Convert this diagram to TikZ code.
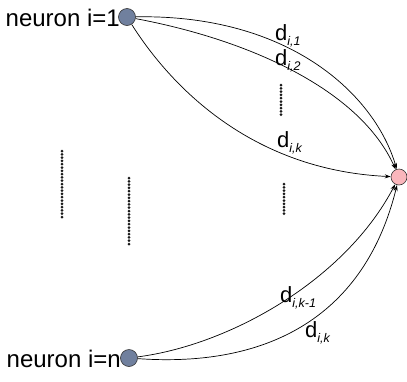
\documentclass[tikz,border=0pt]{standalone}
\usepackage{fontspec}
\setmainfont{Liberation Sans}
\usetikzlibrary{arrows.meta}
\definecolor{nblue}{RGB}{112,128,158}
\definecolor{npink}{RGB}{250,182,188}
\newcommand\dsub[1]{\raisebox{-5pt}{\fontsize{12.5}{12}\selectfont\itshape #1}}
\begin{document}
\begin{tikzpicture}[x=1pt,y=-1pt,
  neuron/.style={circle,draw=black!80,fill=nblue,minimum size=17pt,inner sep=0pt,line width=0.6pt},
  target/.style={circle,draw=black!80,fill=npink,minimum size=16pt,inner sep=0pt,line width=0.6pt},
  conn/.style={line width=0.7pt,-{Stealth[length=6pt,width=4pt]}},
  lbl/.style={font=\fontsize{24}{26}\selectfont,inner sep=0pt},
  dl/.style={font=\fontsize{22}{22}\selectfont,inner sep=0pt,anchor=base west},
  dotc/.style={fill=black!90}]
\useasboundingbox (0,0) rectangle (407,381);
\node[neuron] (n1) at (127,17) {};
\node[neuron] (nn) at (129,358) {};
\node[target] (t) at (399,177) {};
\node[lbl,anchor=base east] (l1) at (120,26) {neuron i=1};
\node[lbl,anchor=base east] (ln) at (121,367) {neuron i=n};
\draw[conn] (n1) .. controls (290,14) and (375,95) .. (t);
\draw[conn] (n1) .. controls (250,40) and (360,90) .. (t);
\draw[conn] (n1) .. controls (170,85) and (250,170) .. (t);
\draw[conn] (nn) .. controls (230,345) and (345,280) .. (t);
\draw[conn] (nn) .. controls (270,368) and (365,315) .. (t);
\node[dl] (d1) at (275,40) {d\dsub{i,1}};
\node[dl] (d2) at (275,65) {d\dsub{i,2}};
\node[dl] (dk) at (277,147) {d\dsub{i,k}};
\node[dl] (dkm) at (280,302) {d\dsub{i,k-1}};
\node[dl] (dk2) at (305,337) {d\dsub{i,k}};
\foreach \i in {0,...,20} {\fill[dotc] (62,151+3.3*\i) circle (1.5pt);}
\foreach \i in {0,...,20} {\fill[dotc] (129,178+3.3*\i) circle (1.5pt);}
\foreach \i in {0,...,9} {\fill[dotc] (284,184+3.3*\i) circle (1.5pt);}
\foreach \i in {0,...,9} {\fill[dotc] (281,85+3.3*\i) circle (1.5pt);}
\end{tikzpicture}
\end{document}
